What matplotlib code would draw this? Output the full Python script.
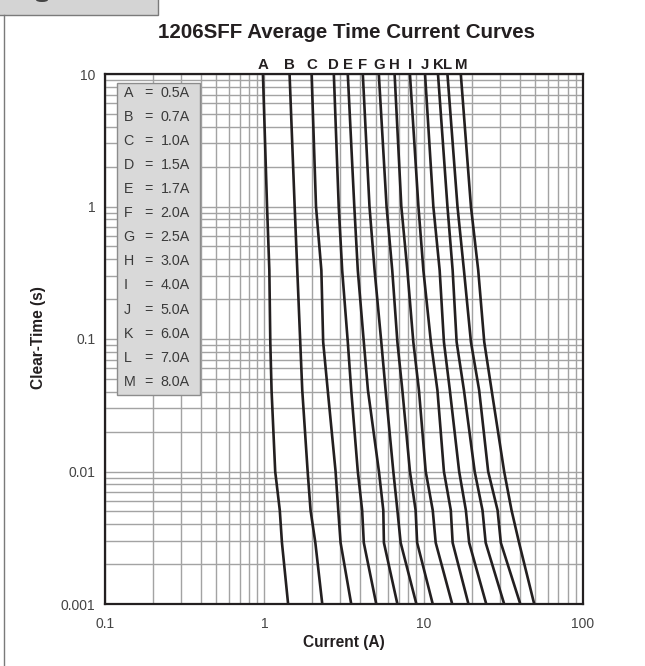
import matplotlib
matplotlib.use('Agg')
import matplotlib.pyplot as plt
from matplotlib.patches import Rectangle, Ellipse
from matplotlib.lines import Line2D
from matplotlib.ticker import LogLocator, NullFormatter

plt.rcParams['font.family'] = ['Liberation Sans', 'DejaVu Sans']

# clear time points (s) where currents were read
times = [10, 1, 0.33, 0.095, 0.041, 0.01, 0.0051, 0.0029, 0.001]

# current (A) for each fuse at the times above
curve_A = [0.98, 1.04, 1.075, 1.09, 1.11, 1.17, 1.25, 1.29, 1.41]
curve_B = [1.44, 1.55, 1.61, 1.68, 1.73, 1.87, 1.95, 2.09, 2.31]
curve_C = [1.98, 2.11, 2.28, 2.34, 2.50, 2.80, 2.91, 3.01, 3.51]
curve_D = [2.73, 2.93, 3.08, 3.34, 3.51, 3.86, 4.11, 4.21, 5.04]
curve_E = [3.34, 3.67, 3.86, 4.21, 4.47, 5.24, 5.58, 5.63, 6.84]
curve_F = [4.15, 4.57, 4.92, 5.42, 5.77, 6.45, 6.84, 7.17, 9.0]
curve_G = [5.23, 5.85, 6.35, 6.84, 7.35, 8.2, 8.9, 9.1, 11.4]
curve_H = [6.57, 7.24, 7.90, 8.61, 9.34, 10.3, 11.4, 11.9, 15.1]
curve_I = [8.2, 9.27, 9.96, 11.1, 12.2, 13.4, 14.8, 15.2, 19.1]
curve_J = [10.2, 11.5, 12.6, 13.4, 14.6, 16.7, 18.4, 19.3, 24.7]
curve_K = [12.3, 14.1, 15.2, 16.1, 17.9, 20.9, 23.4, 24.5, 32.0]
curve_L = [14.1, 16.3, 17.9, 19.8, 22.3, 25.4, 29.1, 30.5, 40.4]
curve_M = [17.1, 19.8, 22.0, 24.0, 26.7, 32.0, 35.6, 39.7, 49.4]

letters = ['A', 'B', 'C', 'D', 'E', 'F', 'G', 'H', 'I', 'J', 'K', 'L', 'M']
ratings = ['0.5A', '0.7A', '1.0A', '1.5A', '1.7A', '2.0A', '2.5A', '3.0A',
           '4.0A', '5.0A', '6.0A', '7.0A', '8.0A']
curves = [curve_A, curve_B, curve_C, curve_D, curve_E, curve_F, curve_G,
          curve_H, curve_I, curve_J, curve_K, curve_L, curve_M]

W, H = 645, 666
fig = plt.figure(figsize=(W / 100, H / 100), dpi=100)
ax = fig.add_axes([105 / W, 1 - 604 / H, (583 - 105) / W, (604 - 74) / H])

ax.set_xscale('log')
ax.set_yscale('log')
ax.set_xlim(0.1, 100)
ax.set_ylim(0.001, 10)

ax.xaxis.set_minor_locator(LogLocator(base=10, subs=range(2, 10)))
ax.yaxis.set_minor_locator(LogLocator(base=10, subs=range(2, 10)))
ax.xaxis.set_minor_formatter(NullFormatter())
ax.yaxis.set_minor_formatter(NullFormatter())
ax.set_xticks([0.1, 1, 10, 100])
ax.set_xticklabels(['0.1', '1', '10', '100'])
ax.set_yticks([0.001, 0.01, 0.1, 1, 10])
ax.set_yticklabels(['0.001', '0.01', '0.1', '1', '10'])
ax.tick_params(which='both', length=0, labelsize=10, labelcolor='#444444')
ax.tick_params(axis='x', pad=9)
ax.tick_params(axis='y', pad=7)
ax.grid(True, which='both', color='#a3a3a3', linewidth=1.0)
for s in ax.spines.values():
    s.set_linewidth(1.6)
    s.set_color('#231f20')

for lab, cur in zip(letters, curves):
    ax.plot(cur, times, color='#231f20', linewidth=1.9, zorder=4,
            solid_joinstyle='round')
    ax.annotate(lab, xy=(cur[0], 10), xytext=(0, 1.5), textcoords='offset points',
                ha='center', va='bottom', fontsize=10.8, fontweight='bold',
                color='#231f20', annotation_clip=False)

# legend box
bx0, bx1, by0, by1 = 117.3, 200, 82.7, 395
ax.add_patch(Rectangle((bx0 / W, 1 - by1 / H), (bx1 - bx0) / W, (by1 - by0) / H,
                       transform=fig.transFigure, facecolor='#d9d9d9',
                       edgecolor='#8c8c8c', linewidth=1.0, zorder=5))
for i, (lab, rat) in enumerate(zip(letters, ratings)):
    yy = 1 - (93 + i * 24.06) / H
    fig.text(123.5 / W, yy, lab, fontsize=10.3, color='#3a3a3a', va='center', ha='left', zorder=6)
    fig.text(148 / W, yy, '=', fontsize=10.3, color='#3a3a3a', va='center', ha='center', zorder=6)
    fig.text(160.5 / W, yy, rat, fontsize=10.3, color='#3a3a3a', va='center', ha='left', zorder=6)

fig.text(346 / W, 1 - 32 / H, '1206SFF Average Time Current Curves',
         fontsize=14.8, fontweight='bold', color='#231f20', ha='center', va='center')
fig.text(344 / W, 1 - 643 / H, 'Current (A)', fontsize=11.2, fontweight='bold',
         color='#231f20', ha='center', va='center')
fig.text(38 / W, 1 - 338 / H, 'Clear-Time (s)', fontsize=11.2, fontweight='bold',
         color='#231f20', ha='center', va='center', rotation=90)

# page decoration: grey tab at top left and left rule
fig.patches.append(Rectangle((-2 / W, 1 - 15 / H), 160 / W, 17 / H,
                             transform=fig.transFigure, facecolor='#d4d4d4',
                             edgecolor='#7a7a7a', linewidth=1.0))
fig.patches.append(Ellipse((42 / W, 1 - 0 / H), 12 / W, 4 / H,
                           transform=fig.transFigure, facecolor='#444444',
                           edgecolor='none'))
fig.lines.append(Line2D([4 / W, 4 / W], [0, 1 - 15 / H], transform=fig.transFigure,
                        color='#7a7a7a', linewidth=1.0))

fig.savefig('out.png', dpi=100)
